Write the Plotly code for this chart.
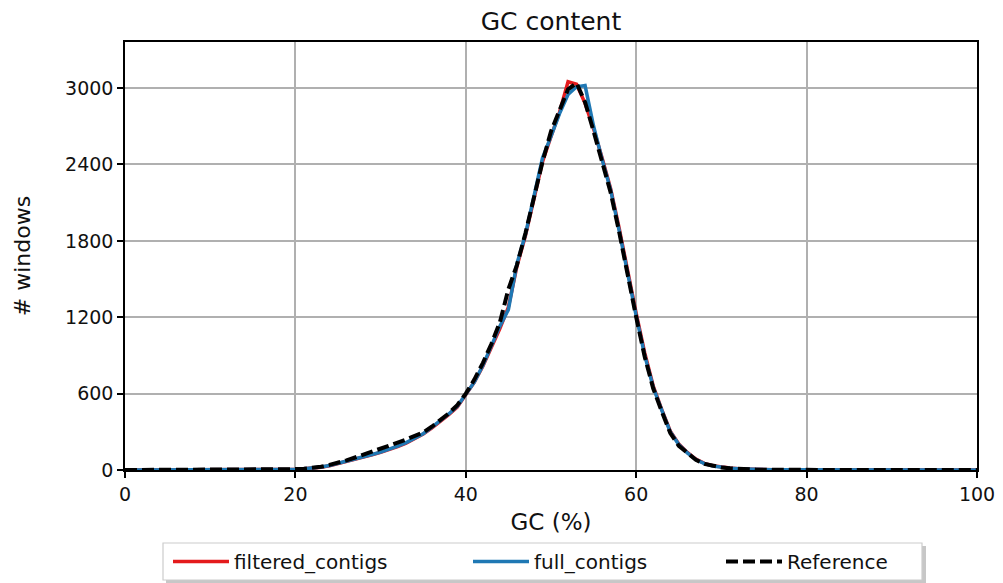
import plotly.graph_objects as go

# GC percentage bins (%)
gc = list(range(0, 101))

# number of windows per GC bin, for each assembly and the reference
reference = [0] * 18 + [
    3, 5, 7, 10, 16, 25, 40, 56, 76, 98,           # 18-27
    120, 142, 165, 190, 215, 240, 265, 295, 340, 390,  # 28-37
    445, 510, 600, 710, 840, 990, 1160, 1420, 1610, 1860,  # 38-47
    2150, 2420, 2660, 2830, 2990, 3040, 2890, 2660, 2420, 2180,  # 48-57
    1870, 1520, 1200, 890, 640, 460, 290, 190, 130, 80,  # 58-67
    48, 30, 20, 13, 8, 5, 3, 2,                    # 68-75
] + [1] * 5 + [0] * 20

full_contigs = [0] * 18 + [
    2, 4, 6, 9, 15, 24, 36, 52, 70, 88,
    105, 122, 140, 162, 188, 215, 248, 285, 335, 385,
    440, 500, 600, 690, 820, 970, 1130, 1260, 1620, 1850,
    2150, 2450, 2620, 2800, 2950, 3010, 3020, 2700, 2440, 2200,
    1880, 1530, 1210, 900, 650, 470, 300, 200, 135, 82,
    50, 32, 21, 14, 9, 6, 4, 2,
] + [1] * 5 + [0] * 20

filtered_contigs = [0] * 18 + [
    2, 4, 6, 9, 14, 22, 34, 50, 68, 86,
    103, 120, 138, 158, 183, 210, 243, 282, 330, 380,
    435, 495, 590, 690, 815, 960, 1110, 1280, 1600, 1840,
    2130, 2420, 2620, 2810, 3050, 3030, 2880, 2680, 2450, 2210,
    1900, 1550, 1230, 920, 660, 475, 305, 205, 138, 85,
    52, 33, 22, 15, 9, 6, 4, 2,
] + [1] * 5 + [0] * 20

x_ticks = [0, 20, 40, 60, 80, 100]
y_ticks = [0, 600, 1200, 1800, 2400, 3000]

FONT = "DejaVu Sans"
INK = "#111111"

# plot area in pixels, used to place the legend in paper units
L, R, T, B = 125, 977, 42, 470
W, H = R - L, B - T


def px_x(px):
    return (px - L) / W


def px_y(py):
    return (B - py) / H


fig = go.Figure()
fig.add_trace(go.Scatter(x=gc, y=filtered_contigs, mode="lines", name="filtered_contigs",
                         line=dict(color="#e41a1c", width=3.5), legend="legend"))
fig.add_trace(go.Scatter(x=gc, y=full_contigs, mode="lines", name="full_contigs",
                         line=dict(color="#1f78b4", width=3.5), legend="legend2"))
fig.add_trace(go.Scatter(x=gc, y=reference, mode="lines", name="Reference",
                         line=dict(color="black", width=4, dash="12px,5px"), legend="legend3"))

axis_common = dict(
    showline=True, linecolor="black", linewidth=1.5, mirror=True,
    ticks="outside", ticklen=6, tickwidth=1.5, tickcolor="black",
    showgrid=True, gridcolor="#b0b0b0", gridwidth=2,
    zeroline=False,
    tickfont=dict(family=FONT, size=19, color=INK),
)

legend_common = dict(
    orientation="h", yanchor="middle", y=px_y(561.5), xanchor="left",
    bgcolor="rgba(0,0,0,0)", borderwidth=0, itemwidth=56,
    font=dict(family=FONT, size=20, color=INK),
)

# legend frame with a soft drop shadow
shapes = [
    dict(type="rect", xref="paper", yref="paper",
         x0=px_x(166), x1=px_x(926), y0=px_y(583), y1=px_y(546),
         fillcolor="rgba(0,0,0,0.22)", line=dict(width=0), layer="above"),
    dict(type="rect", xref="paper", yref="paper",
         x0=px_x(163), x1=px_x(922), y0=px_y(580), y1=px_y(543),
         fillcolor="white", line=dict(color="#cccccc", width=1.2), layer="above"),
]

fig.update_layout(
    width=1003, height=583,
    paper_bgcolor="white", plot_bgcolor="white",
    margin=dict(l=L, r=1003 - R, t=T, b=583 - B, autoexpand=False),
    title=dict(text="GC content", x=(L + R) / 2 / 1003, xanchor="center",
               y=1 - 21 / 583, yanchor="middle", yref="container",
               font=dict(family=FONT, size=25, color=INK)),
    xaxis=dict(range=[0, 100], tickvals=x_ticks, automargin=False,
               title=dict(text="GC (%)", font=dict(family=FONT, size=23, color=INK),
                          standoff=10),
               **axis_common),
    yaxis=dict(range=[0, 3362], tickvals=y_ticks, automargin=False,
               title=dict(text="# windows", font=dict(family=FONT, size=22, color=INK),
                          standoff=28),
               **axis_common),
    legend=dict(x=px_x(168), **legend_common),
    legend2=dict(x=px_x(468), **legend_common),
    legend3=dict(x=px_x(721), **legend_common),
    shapes=shapes,
    showlegend=True,
)

fig.write_html("out.html")
